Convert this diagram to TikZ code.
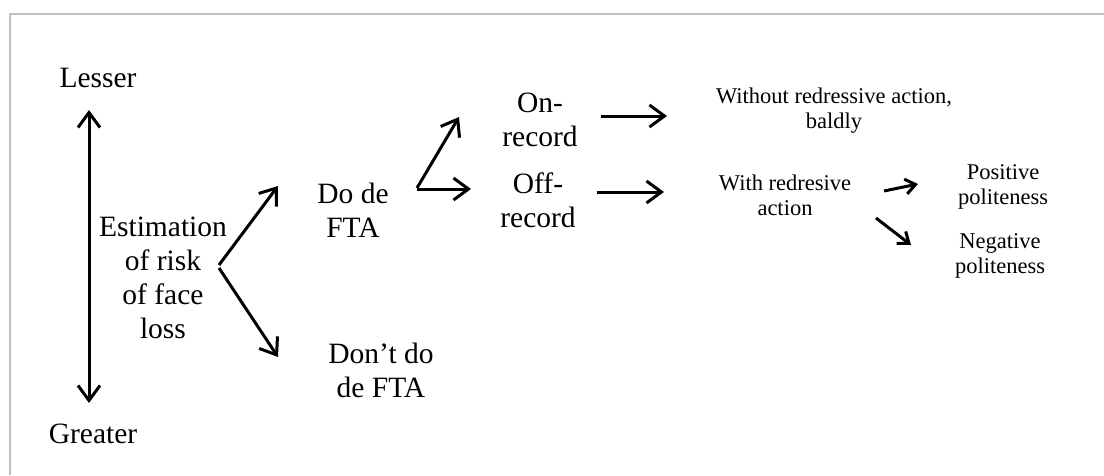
\documentclass[tikz,border=0pt]{standalone}
\usepackage{fontspec}
\setmainfont{Liberation Serif}
\usetikzlibrary{arrows.meta}
\definecolor{framegray}{RGB}{192,192,192}
\begin{document}
\begin{tikzpicture}[x=1pt,y=-1pt,
  lbl/.style={inner sep=0pt, align=center, font=\fontsize{29.5}{34}\selectfont},
  sml/.style={inner sep=0pt, align=center, font=\fontsize{22.5}{25}\selectfont},
  arr/.style={line width=3pt, -{Straight Barb[length=15pt,width=22pt]}},
  darr/.style={line width=3pt, {Straight Barb[length=15pt,width=22pt]}-{Straight Barb[length=15pt,width=22pt]}},
  sarr/.style={line width=3pt, -{Straight Barb[length=10pt,width=15pt]}}]
\useasboundingbox (0,0) rectangle (1104,475);
% frame
\draw[framegray, line width=2.6pt] (10,475) -- (10,14) -- (1104,14);
% texts
\node[lbl] (lesser) at (98,78) {Lesser};
\node[lbl] (greater) at (93,434) {Greater};
\node[lbl] (est) at (163,278) {Estimation\\of risk\\of face\\loss};
\node[lbl] (do) at (353,210) {Do de\\FTA};
\node[lbl] (dont) at (381,370) {Don’t do\\de FTA};
\node[lbl] (on) at (540,120) {On-\\record};
\node[lbl] (off) at (538,200) {Off-\\record};
\node[sml] (without) at (834,111) {Without redressive action,\\baldly};
\node[sml] (with) at (785,195) {With redresive\\action};
\node[sml] (pos) at (1003,187) {Positive\\politeness};
\node[sml] (neg) at (1000,256) {Negative\\politeness};
% arrow end points
\coordinate (vtop) at (89,110);
\coordinate (vbot) at (89,403);
\coordinate (e1) at (219,265);
\coordinate (e1t) at (278,186);
\coordinate (e2) at (219,268);
\coordinate (e2t) at (278,357);
\coordinate (d1) at (417,188);
\coordinate (d1t) at (459,117);
\coordinate (d2) at (417,189);
\coordinate (d2t) at (471,189);
\coordinate (o1) at (601,116);
\coordinate (o1t) at (667,116);
\coordinate (f1) at (597,192);
\coordinate (f1t) at (664,192);
\coordinate (w1) at (884,191);
\coordinate (w1t) at (918,184);
\coordinate (w2) at (876,218);
\coordinate (w2t) at (911,245);
% arrows
\draw[darr] (vtop) -- (vbot);
\draw[arr] (e1) -- (e1t);
\draw[arr] (e2) -- (e2t);
\draw[arr] (d1) -- (d1t);
\draw[arr] (d2) -- (d2t);
\draw[arr] (o1) -- (o1t);
\draw[arr] (f1) -- (f1t);
\draw[sarr] (w1) -- (w1t);
\draw[sarr] (w2) -- (w2t);
\end{tikzpicture}
\end{document}
